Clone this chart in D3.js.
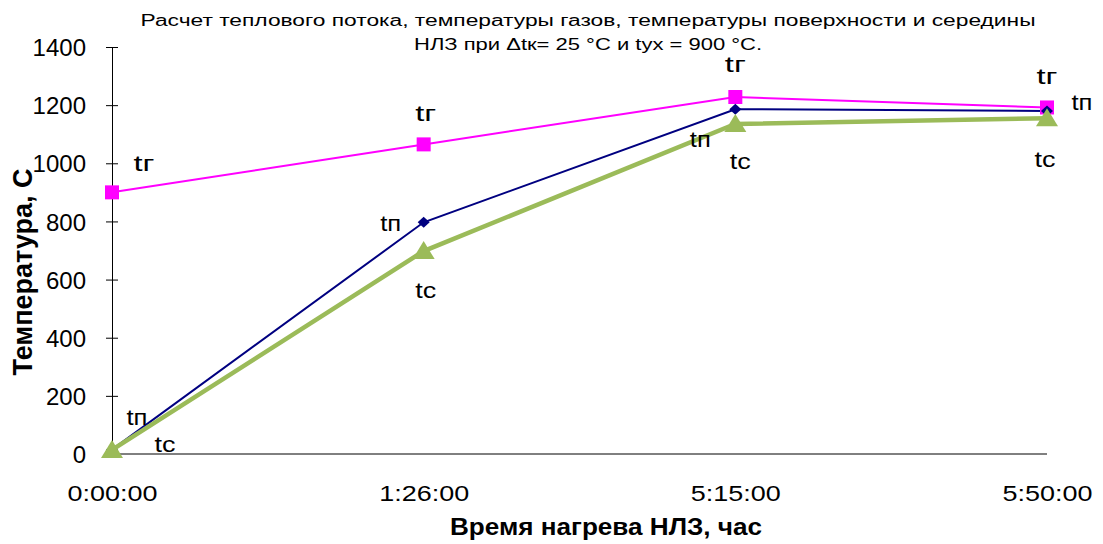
<!DOCTYPE html>
<html><head><meta charset="utf-8">
<script src="https://cdn.jsdelivr.net/npm/d3@7"></script>
<style>body{margin:0;background:#fff}svg{display:block;font-family:Arial,"Liberation Sans",sans-serif}</style>
</head><body>
<svg id="c" width="1103" height="544"></svg>
<script>
const categories = ["0:00:00","1:26:00","5:15:00","5:50:00"];
const tg = [900, 1065, 1228, 1192];
const tp = [15, 797, 1186, 1180];
const tc = [14, 698, 1135, 1155];
const yTicks = [0,200,400,600,800,1000,1200,1400];
const titleLines = ["Расчет теплового потока, температуры газов, температуры поверхности и середины","НЛЗ при Δtк= 25 °С и tух = 900  °С."];
const xTitle = "Время нагрева НЛЗ, час";
const yTitle = "Температура, С";
// label offsets (px) per point for each series
const tgLab = [[32,-28],[2,-30],[0,-32],[0,-30]];
const tpLab = [[25,-32],[-33,2],[-35,31],[35,-8]];
const tcLab = [[53,-5],[2,40],[5,38],[-2,42]];

const svg = d3.select("#c");
const x = d3.scalePoint().domain(categories).range([112,1047]);
const y = d3.scaleLinear().domain([0,1400]).range([454,47]);

// y axis
const ya = svg.append("g").attr("transform","translate(112,0)")
  .call(d3.axisLeft(y).tickValues(yTicks).tickFormat(d3.format("d")).tickSize(6).tickSizeOuter(0));
ya.selectAll(".tick line").attr("x2",6).attr("x1",-6).attr("stroke","#000");
ya.select(".domain").attr("stroke","#000");
ya.selectAll(".tick text").attr("font-size",24).attr("fill","#000").attr("x",-26).attr("dy","0.36em");

// x axis
const xa = svg.append("g").attr("transform","translate(0,454)")
  .call(d3.axisBottom(x).tickSize(0).tickPadding(31));
xa.select(".domain").attr("stroke","#000").attr("d","M112,0H1047");
xa.selectAll(".tick text").attr("font-size",22).attr("fill","#000")
  .attr("textLength",90).attr("lengthAdjust","spacingAndGlyphs");

// lines
const line = d3.line().x((d,i)=>x(categories[i])).y(d=>y(d));
svg.append("path").datum(tg).attr("d",line).attr("fill","none").attr("stroke","#FF00FF").attr("stroke-width",2);
svg.append("path").datum(tp).attr("d",line).attr("fill","none").attr("stroke","#000080").attr("stroke-width",2);
svg.append("path").datum(tc).attr("d",line).attr("fill","none").attr("stroke","#9BBB59").attr("stroke-width",4.5);

// markers
svg.selectAll(".mg").data(tg).enter().append("rect")
  .attr("x",(d,i)=>x(categories[i])-7).attr("y",d=>y(d)-7).attr("width",14).attr("height",14).attr("fill","#FF00FF");
svg.selectAll(".mp").data(tp).enter().append("path")
  .attr("transform",(d,i)=>`translate(${x(categories[i])},${y(d)})`)
  .attr("d","M0,-5.5L6,0L0,5.5L-6,0Z").attr("fill","#000080");
svg.selectAll(".mc").data(tc).enter().append("path")
  .attr("transform",(d,i)=>`translate(${x(categories[i])},${y(d)})`)
  .attr("d","M0,-10L11,8L-11,8Z").attr("fill","#9BBB59");

// data labels
function labels(vals, offs, txt){
  svg.selectAll(null).data(vals).enter().append("text")
    .attr("x",(d,i)=>x(categories[i])+offs[i][0]).attr("y",(d,i)=>y(d)+offs[i][1]+7)
    .attr("text-anchor","middle").attr("font-size",22).attr("fill","#000")
    .attr("textLength",21).attr("lengthAdjust","spacingAndGlyphs").text(txt);
}
labels(tg,tgLab,"tг");
labels(tp,tpLab,"tп");
labels(tc,tcLab,"tc");

// titles
const tLens = [895, 348];
svg.selectAll(".tt").data(titleLines).enter().append("text")
  .attr("x",588).attr("y",(d,i)=>26+i*24).attr("text-anchor","middle")
  .attr("font-size",16).attr("fill","#000")
  .attr("textLength",(d,i)=>tLens[i]).attr("lengthAdjust","spacingAndGlyphs").text(d=>d);
svg.append("text").attr("x",606).attr("y",535).attr("text-anchor","middle")
  .attr("font-size",23).attr("font-weight","bold")
  .attr("textLength",312).attr("lengthAdjust","spacingAndGlyphs").text(xTitle);
svg.append("text").attr("transform","translate(32,272) scale(1.3,1) rotate(-90)").attr("text-anchor","middle")
  .attr("font-size",21).attr("font-weight","bold")
  .attr("textLength",207).attr("lengthAdjust","spacingAndGlyphs").text(yTitle);
</script>
</body></html>
